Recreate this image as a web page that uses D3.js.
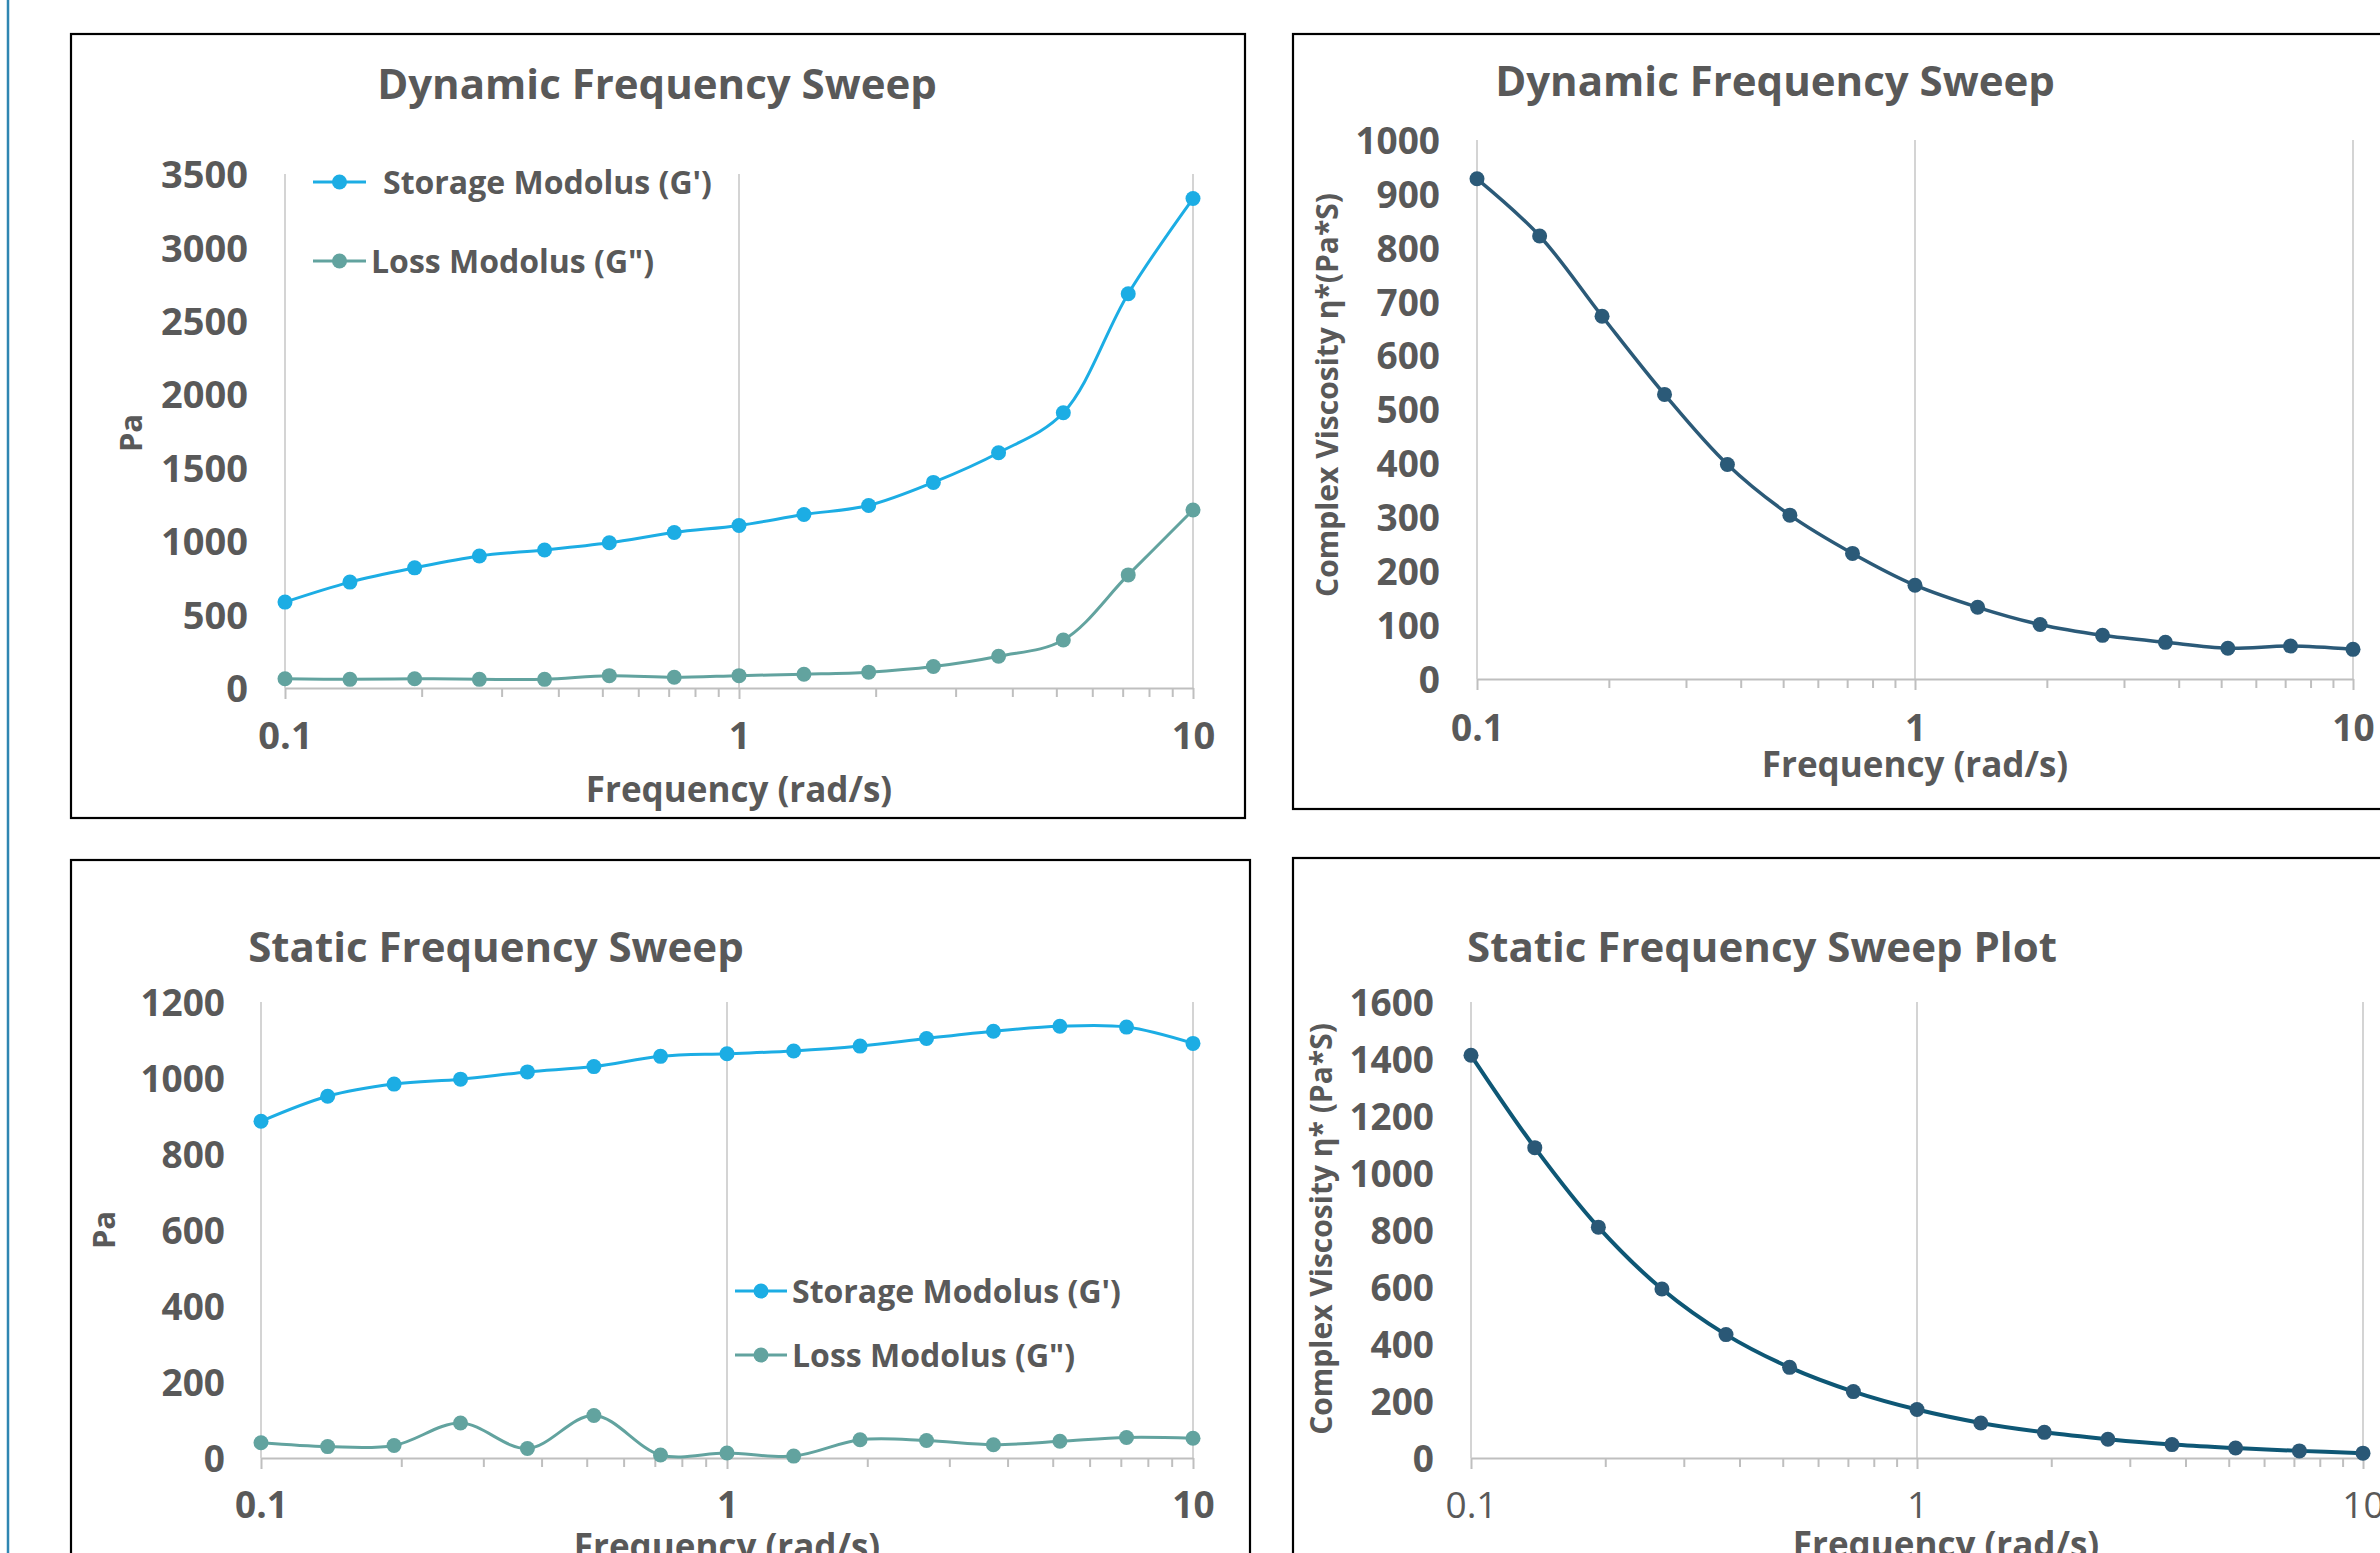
<!DOCTYPE html>
<html>
<head>
<meta charset="utf-8">
<script src="https://cdn.jsdelivr.net/npm/d3@7"></script>
<style>
  html, body { margin: 0; padding: 0; background: #fff; overflow: hidden; }
  svg text { font-family: "Open Sans", "DejaVu Sans", sans-serif; fill: #595959; font-weight: 700; }
</style>
</head>
<body>
<div id="page"></div>
<script>
// frequency points (rad/s), shared by all four charts
var freq = [0.1, 0.139, 0.193, 0.268, 0.373, 0.518, 0.72, 1, 1.39, 1.93, 2.68, 3.73, 5.18, 7.2, 10];
// dynamic sweep
var dynStorage = [585, 721, 818, 899, 940, 989, 1059, 1107, 1181, 1243, 1400, 1602, 1874, 2685, 3333];
var dynLoss = [63, 59, 63, 59, 59, 84, 73, 84, 94, 108, 146, 216, 327, 770, 1212];
var dynViscosity = [928, 822, 673, 528, 398, 304, 233, 174, 133, 101, 81, 68, 57, 61, 55];
// static sweep
var staStorage = [886, 952, 984, 997, 1016, 1030, 1057, 1064, 1071, 1084, 1104, 1123, 1136, 1134, 1091];
var staLoss = [40, 30, 33, 92, 25, 112, 8, 13, 5, 48, 46, 35, 44, 54, 52];
var staViscosity = [1413, 1089, 810, 593, 433, 318, 233, 170, 123, 90, 66, 47, 35, 25, 17];
// tick labels
var freqTicks = [0.1, 1, 10];
var minorTicks = [0.2, 0.3, 0.4, 0.5, 0.6, 0.7, 0.8, 0.9, 2, 3, 4, 5, 6, 7, 8, 9];
var dynModTicks = [0, 500, 1000, 1500, 2000, 2500, 3000, 3500];
var dynVisTicks = [0, 100, 200, 300, 400, 500, 600, 700, 800, 900, 1000];
var staModTicks = [0, 200, 400, 600, 800, 1000, 1200];
var staVisTicks = [0, 200, 400, 600, 800, 1000, 1200, 1400, 1600];
var storageName = "Storage Modolus (G')";
var lossName = "Loss Modolus (G\")";

var W = 2380, H = 1553;
var svg = d3.select("#page").append("svg")
  .attr("width", W)
  .attr("height", H);

// thin blue rule on the left edge of the page
svg.append("line")
  .attr("x1", 8).attr("x2", 8)
  .attr("y1", 0).attr("y2", H)
  .style("stroke", "#2f86b2")
  .style("stroke-width", 2.5);

function drawChart(c) {
  var g = svg.append("g");

  // panel frame
  g.append("rect")
    .attr("x", c.panel[0]).attr("y", c.panel[1])
    .attr("width", c.panel[2]).attr("height", c.panel[3])
    .style("fill", "#fff")
    .style("stroke", "#000")
    .style("stroke-width", 2.2);

  var x = d3.scaleLog().domain([0.1, 10]).range([c.left, c.right]);
  var y = d3.scaleLinear().domain([0, c.yMax]).range([c.bottom, c.top]);

  // vertical gridlines at decades
  g.selectAll(".grid")
    .data(freqTicks)
    .enter()
    .append("line")
    .attr("x1", function (d) { return x(d); })
    .attr("x2", function (d) { return x(d); })
    .attr("y1", c.top)
    .attr("y2", c.bottom)
    .style("stroke", "#d4d4d4")
    .style("stroke-width", 2);

  // minor ticks
  var minor = g.append("g")
    .attr("transform", "translate(0," + c.bottom + ")")
    .call(d3.axisBottom(x).tickValues(minorTicks).tickSize(9).tickSizeOuter(0).tickFormat(""));
  minor.select(".domain").remove();
  minor.selectAll("line").style("stroke", "#bfbfbf").style("stroke-width", 2);

  // major ticks + labels
  var xa = g.append("g")
    .attr("transform", "translate(0," + c.bottom + ")")
    .call(d3.axisBottom(x).tickValues(freqTicks).tickSize(11).tickSizeOuter(0)
      .tickFormat(function (d) { return String(d); }));
  xa.select(".domain").style("stroke", "#bfbfbf").style("stroke-width", 2);
  xa.selectAll("line").style("stroke", "#bfbfbf").style("stroke-width", 2);
  xa.selectAll("text")
    .attr("y", c.xLabelBase - c.bottom)
    .attr("dy", null)
    .style("font-size", c.tickFont + "px")
    .style("font-weight", c.xLabelWeight || 700)
    .style("fill", "#595959");

  // y labels, plain numbers without thousands separator
  var ya = g.append("g")
    .attr("transform", "translate(" + c.yLabelRight + ",0)")
    .call(d3.axisLeft(y).tickValues(c.yTicks).tickSize(0).tickPadding(0)
      .tickFormat(function (d) { return String(d); }));
  ya.select(".domain").remove();
  ya.selectAll("text")
    .attr("dy", "0.36em")
    .style("font-size", c.tickFont + "px")
    .style("fill", "#595959");

  // titles
  g.append("text")
    .attr("x", c.title[1]).attr("y", c.title[2])
    .style("text-anchor", "middle")
    .style("font-size", "42px")
    .text(c.title[0]);
  g.append("text")
    .attr("x", c.xTitle[0]).attr("y", c.xTitle[1])
    .style("text-anchor", "middle")
    .style("font-size", "35px")
    .text("Frequency (rad/s)");
  g.append("text")
    .attr("transform", "translate(" + c.yTitle[1] + "," + c.yTitle[2] + ") rotate(-90)")
    .attr("dy", "0.36em")
    .style("text-anchor", "middle")
    .style("font-size", c.yTitleFont + "px")
    .text(c.yTitle[0]);

  var line = d3.line()
    .x(function (d) { return x(d[0]); })
    .y(function (d) { return y(d[1]); })
    .curve(d3.curveCatmullRom.alpha(0.5));

  c.series.forEach(function (s) {
    var pts = freq.map(function (f, i) { return [f, s.values[i]]; });
    g.append("path")
      .datum(pts)
      .attr("d", line)
      .style("fill", "none")
      .style("stroke", s.color)
      .style("stroke-width", s.width);
    g.selectAll(null)
      .data(pts)
      .enter()
      .append("circle")
      .attr("cx", function (d) { return x(d[0]); })
      .attr("cy", function (d) { return y(d[1]); })
      .attr("r", 7.5)
      .style("fill", s.marker || s.color);
  });

  // legend
  if (c.legend) {
    c.series.forEach(function (s, i) {
      var ly = c.legend.ys[i];
      g.append("line")
        .attr("x1", c.legend.x1).attr("x2", c.legend.x2)
        .attr("y1", ly).attr("y2", ly)
        .style("stroke", s.color)
        .style("stroke-width", s.width);
      g.append("circle")
        .attr("cx", (c.legend.x1 + c.legend.x2) / 2)
        .attr("cy", ly)
        .attr("r", 7.5)
        .style("fill", s.color);
      g.append("text")
        .attr("x", c.legend.textX[i]).attr("y", ly)
        .attr("dy", "0.36em")
        .style("font-size", "32px")
        .text(s.name);
    });
  }
}

drawChart({
  panel: [71, 34, 1174, 784],
  left: 285, right: 1193, top: 174, bottom: 688,
  yMax: 3500, yTicks: dynModTicks, yLabelRight: 248, xLabelBase: 749, tickFont: 38,
  title: ["Dynamic Frequency Sweep", 657, 99],
  xTitle: [739, 802],
  yTitle: ["Pa", 131, 433], yTitleFont: 31,
  series: [
    { values: dynStorage, color: "#1cade4", width: 3, name: storageName },
    { values: dynLoss, color: "#62a39f", width: 3, name: lossName }
  ],
  legend: { x1: 313, x2: 366, ys: [182, 261], textX: [383, 371] }
});

drawChart({
  panel: [1293, 34, 1200, 775],
  left: 1477, right: 2353, top: 140, bottom: 679,
  yMax: 1000, yTicks: dynVisTicks, yLabelRight: 1440, xLabelBase: 741, tickFont: 37,
  title: ["Dynamic Frequency Sweep", 1775, 96],
  xTitle: [1915, 777],
  yTitle: ["Complex Viscosity \u03b7*(Pa*S)", 1327, 395], yTitleFont: 30,
  series: [
    { values: dynViscosity, color: "#2b5a78", width: 3.5 }
  ]
});

drawChart({
  panel: [71, 860, 1179, 760],
  left: 261, right: 1193, top: 1002, bottom: 1458,
  yMax: 1200, yTicks: staModTicks, yLabelRight: 225, xLabelBase: 1518, tickFont: 37,
  title: ["Static Frequency Sweep", 496, 962],
  xTitle: [727, 1559],
  yTitle: ["Pa", 104, 1230], yTitleFont: 31,
  series: [
    { values: staStorage, color: "#1cade4", width: 3, name: storageName },
    { values: staLoss, color: "#62a39f", width: 3, name: lossName }
  ],
  legend: { x1: 735, x2: 787, ys: [1291, 1355], textX: [792, 792] }
});

drawChart({
  panel: [1293, 858, 1200, 760],
  left: 1471, right: 2363, top: 1002, bottom: 1458,
  yMax: 1600, yTicks: staVisTicks, yLabelRight: 1434, xLabelBase: 1518, tickFont: 37,
  xLabelWeight: 400,
  title: ["Static Frequency Sweep Plot", 1762, 962],
  xTitle: [1946, 1557],
  yTitle: ["Complex Viscosity \u03b7* (Pa*S)", 1321, 1229], yTitleFont: 30,
  series: [
    { values: staViscosity, color: "#0e5775", marker: "#2a5876", width: 4 }
  ]
});
</script>
</body>
</html>
